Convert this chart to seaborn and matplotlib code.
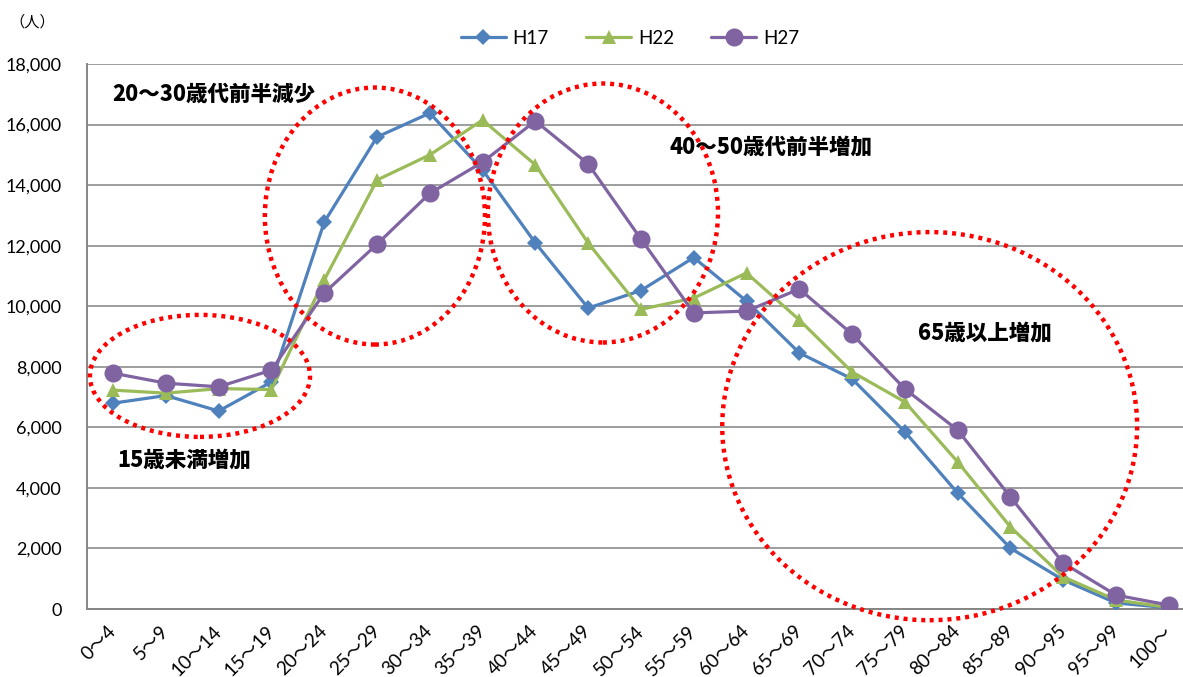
import matplotlib
matplotlib.use("Agg")
import matplotlib.pyplot as plt
from matplotlib.patches import Ellipse
from matplotlib.ticker import FixedLocator, FuncFormatter
import seaborn as sns
import pandas as pd

# Age groups and population by census year
age_groups = ["0～4", "5～9", "10～14", "15～19", "20～24", "25～29", "30～34",
              "35～39", "40～44", "45～49", "50～54", "55～59", "60～64", "65～69",
              "70～74", "75～79", "80～84", "85～89", "90～95", "95～99", "100～"]
h17 = [6800, 7050, 6540, 7500, 12780, 15590, 16380, 14500, 12090, 9940, 10520,
       11610, 10170, 8460, 7600, 5850, 3830, 2010, 960, 200, 40]
h22 = [7230, 7130, 7280, 7250, 10870, 14170, 15000, 16150, 14670, 12090, 9900,
       10270, 11100, 9550, 7830, 6840, 4860, 2710, 1060, 300, 50]
h27 = [7790, 7460, 7340, 7890, 10440, 12050, 13730, 14760, 16120, 14700, 12220,
       9780, 9840, 10570, 9080, 7270, 5910, 3700, 1520, 460, 130]
series_names = ["H17", "H22", "H27"]
y_ticks = [0, 2000, 4000, 6000, 8000, 10000, 12000, 14000, 16000, 18000]

sns.set_style("white")
plt.rcParams["font.family"] = ["Lato", "Noto Sans CJK JP", "DejaVu Sans"]
plt.rcParams["text.color"] = "black"
plt.rcParams["xtick.labelcolor"] = "black"
plt.rcParams["ytick.labelcolor"] = "black"

colors = {"H17": "#4F81BD", "H22": "#9BBB59", "H27": "#8064A2"}
markers = {"H17": "D", "H22": "^", "H27": "o"}
msizes = {"H17": 8, "H22": 10, "H27": 13}

pos = list(range(len(age_groups)))
df = pd.DataFrame({"pos": pos * 3,
                   "value": h17 + h22 + h27,
                   "year": sum([[n] * len(age_groups) for n in series_names], [])})

fig = plt.figure(figsize=(11.83, 6.77), dpi=100)
ax = fig.add_axes([0.0733, 0.1004, 0.937, 0.805])

for name in series_names:
    sub = df[df["year"] == name]
    sns.lineplot(data=sub, x="pos", y="value", ax=ax, color=colors[name],
                 marker=markers[name], markersize=msizes[name],
                 markeredgewidth=0, linewidth=2.3, label=name, zorder=3)

ax.set_xlim(-0.5, len(age_groups) - 0.5)
ax.set_ylim(0, 18000)
ax.set_xlabel("")
ax.set_ylabel("")

ax.set_yticks(y_ticks)
ax.yaxis.set_major_formatter(FuncFormatter(lambda v, p: f"{int(v):,}"))
ax.set_xticks(pos)
ax.set_xticklabels(age_groups, rotation=45, ha="right", va="center",
                   rotation_mode="anchor")
ax.xaxis.set_minor_locator(FixedLocator([p - 0.5 for p in pos[1:]] + [len(pos) - 0.5]))
ax.tick_params(axis="x", which="major", length=0, pad=14, labelsize=13.5,
               labelcolor="black")
ax.tick_params(axis="x", which="minor", length=5, width=1.1, direction="in",
               color="#868686")
ax.tick_params(axis="y", length=0, pad=18, labelsize=13, labelcolor="black")

ax.grid(axis="y", color="#8C8C8C", linewidth=1.2, zorder=0)
ax.set_axisbelow(True)
for s in ["top", "right"]:
    ax.spines[s].set_visible(False)
for s in ["left", "bottom"]:
    ax.spines[s].set_color("#868686")
    ax.spines[s].set_linewidth(1.4)

# Red dotted highlight rings (center x, center y, width, height)
rings = [(1.646, 7700, 4.17, 4030),
         (4.96, 12980, 4.17, 8490),
         (9.28, 13080, 4.36, 8555),
         (15.47, 6040, 7.86, 12820)]
for cx, cy, w, h in rings:
    ax.add_patch(Ellipse((cx, cy), w, h, fill=False, edgecolor="#FF0000",
                         linewidth=3.2, linestyle=(0, (0.9, 1.1)),
                         clip_on=False, zorder=4))

notes = [(-0.02, 17000, "20～30歳代前半減少"),
         (10.55, 15260, "40～50歳代前半増加"),
         (15.24, 9120, "65歳以上増加"),
         (0.09, 4920, "15歳未満増加")]
for x, y, t in notes:
    ax.text(x, y, t, ha="left", va="center", fontsize=15.5, fontweight="heavy",
            color="black", family=["Noto Sans CJK JP", "DejaVu Sans"], zorder=5)

fig.text(0.008, 1 - 22 / 677, "（人）", ha="left", va="center", fontsize=11,
         color="black", family=["Noto Sans CJK JP", "DejaVu Sans"])

ax.get_legend().remove()
handles, labels = ax.get_legend_handles_labels()
fig.legend(handles, labels, loc="center", ncol=3,
           bbox_to_anchor=(630 / 1183, 1 - 38 / 677), frameon=False,
           fontsize=13.5, handlelength=2.4, columnspacing=2.0, handletextpad=0.35,
           labelcolor="black")

fig.savefig("out.png", dpi=100)
